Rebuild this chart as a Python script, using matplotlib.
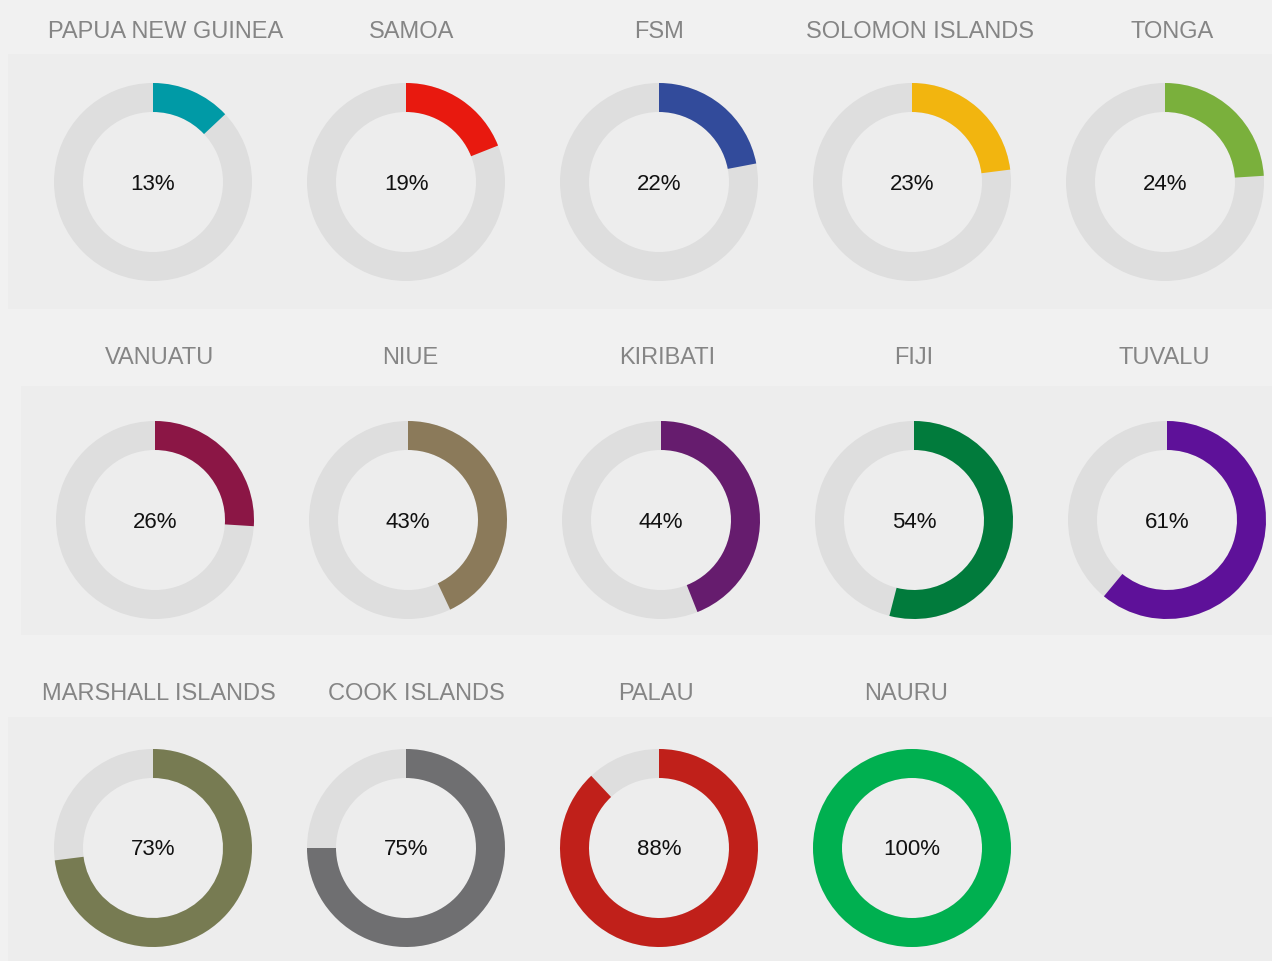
#!/usr/bin/env python3

import matplotlib
matplotlib.use("Agg")
import matplotlib.pyplot as plt
from matplotlib.patches import Wedge, Rectangle

countries = ["PAPUA NEW GUINEA", "SAMOA", "FSM", "SOLOMON ISLANDS", "TONGA",
             "VANUATU", "NIUE", "KIRIBATI", "FIJI", "TUVALU",
             "MARSHALL ISLANDS", "COOK ISLANDS", "PALAU", "NAURU"]
values = [13, 19, 22, 23, 24, 26, 43, 44, 54, 61, 73, 75, 88, 100]
colors = ["#009aa6", "#e8190f", "#324b9b", "#f2b50f", "#7ab03c",
          "#8b1645", "#8b7a5a", "#661c6e", "#017b3c", "#5e1199",
          "#777b52", "#6f6f71", "#c0201a", "#00b050"]

W, H = 1272, 962
BG = "#f1f1f1"
PANEL = "#ededed"
TRACK = "#dedede"


def main():
	fig = plt.figure(figsize=(W / 100, H / 100), dpi=100, facecolor=BG)
	ax = fig.add_axes([0, 0, 1, 1])
	ax.set_xlim(0, W)
	ax.set_ylim(0, H)
	ax.axis("off")

	# layout in pixels (top-down y)
	panels = [(8, 55, 310), (21, 387, 636), (8, 718, 962)]
	centers_x = [[153, 406, 659, 912, 1165],
	             [155, 408, 661, 914, 1167],
	             [153, 406, 659, 912]]
	centers_y = [183, 521, 849]
	title_x = [[166, 412, 659, 920, 1172],
	           [160, 410, 667, 914, 1164],
	           [159, 416, 656, 906]]
	title_y = [32, 358, 694]
	r_out, width = 99, 29

	for x0, top, bottom in panels:
		ax.add_patch(Rectangle((x0, H - bottom), W - x0, bottom - top,
		                       facecolor=PANEL, edgecolor="none"))

	i = 0
	for row in range(3):
		for col in range(len(centers_x[row])):
			cx = centers_x[row][col]
			cy = H - centers_y[row]
			v = values[i]
			ax.add_patch(Wedge((cx, cy), r_out, 0, 360, width=width,
			                   facecolor=TRACK, edgecolor="none"))
			if v >= 100:
				ax.add_patch(Wedge((cx, cy), r_out, 0, 360, width=width,
				                   facecolor=colors[i], edgecolor="none"))
			else:
				ax.add_patch(Wedge((cx, cy), r_out, 90 - 360 * v / 100, 90,
				                   width=width, facecolor=colors[i], edgecolor="none"))
			ax.text(cx, cy - 1, f"{v}%", ha="center", va="center",
			        fontsize=16, color="#111111", family="Liberation Sans")
			ax.text(title_x[row][col], H - title_y[row], countries[i],
			        ha="center", va="center", fontsize=17, color="#858585",
			        family="Liberation Sans")
			i += 1

	fig.savefig("out.png", dpi=100, facecolor=BG)


if __name__ == "__main__":
	main()
